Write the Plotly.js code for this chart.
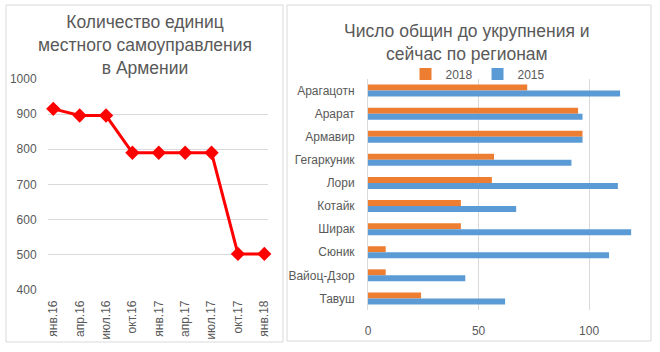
<!DOCTYPE html>
<html><head><meta charset="utf-8">
<script src="https://cdn.plot.ly/plotly-3.0.1.min.js"></script>
<style>html,body{margin:0;padding:0;background:#fff;}#chart{width:660px;height:352px;}</style>
</head><body><div id="chart"></div>
<script>
// Left chart data
const months = ['янв.16','апр.16','июл.16','окт.16','янв.17','апр.17','июл.17','окт.17','янв.18'];
const unitCounts = [915, 896, 896, 790, 790, 790, 790, 502, 502];

// Right chart data
const regions = ['Арагацотн','Арарат','Армавир','Гегаркуник','Лори','Котайк','Ширак','Сюник','Вайоц-Дзор','Тавуш'];
const values2018 = [72, 95, 97, 57, 56, 42, 42, 8, 8, 24];
const values2015 = [114, 97, 97, 92, 113, 67, 119, 109, 44, 62];

const FONT = 'Liberation Sans, Arial, sans-serif';
const GREY = '#595959';
const W = 660, H = 352;
const px = x => x / W;
const py = y => 1 - y / H;

const traces = [
  {
    type: 'scatter', mode: 'lines+markers', x: months, y: unitCounts,
    xaxis: 'x', yaxis: 'y',
    line: {color: '#FF0000', width: 3},
    marker: {symbol: 'diamond', size: 11, color: '#FF0000'},
    showlegend: false, cliponaxis: false
  },
  {
    type: 'bar', orientation: 'h', name: '2018', y: regions, x: values2018,
    xaxis: 'x2', yaxis: 'y2', marker: {color: '#ED7D31'}
  },
  {
    type: 'bar', orientation: 'h', name: '2015', y: regions, x: values2015,
    xaxis: 'x2', yaxis: 'y2', marker: {color: '#5B9BD5'}
  }
];

const layout = {
  width: W, height: H,
  margin: {l: 0, r: 0, t: 0, b: 0},
  paper_bgcolor: '#fff', plot_bgcolor: 'rgba(0,0,0,0)',
  font: {family: FONT, color: GREY, size: 12},
  barmode: 'group', bargap: 0.48, bargroupgap: 0,
  xaxis: {
    domain: [px(48), px(268)], anchor: 'y', type: 'category',
    range: [-0.2, 8.14], tickangle: -90, showgrid: false, showline: false,
    tickfont: {size: 12, color: GREY}, ticks: 'outside', ticklen: 5, tickcolor: 'rgba(0,0,0,0)',
    fixedrange: true
  },
  yaxis: {
    domain: [py(289.7), py(79)], anchor: 'x',
    range: [400, 1000], dtick: 100, gridcolor: '#d9d9d9', gridwidth: 1,
    zeroline: false, showline: false, tickfont: {size: 12, color: GREY},
    ticks: 'outside', ticklen: 8, tickcolor: 'rgba(0,0,0,0)'
  },
  xaxis2: {
    domain: [px(368), px(640)], anchor: 'y2',
    range: [0, 123], tickvals: [0, 50, 100], gridcolor: '#d9d9d9', gridwidth: 1,
    zeroline: false, showline: false, tickfont: {size: 12, color: GREY},
    ticks: 'outside', ticklen: 10, tickcolor: 'rgba(0,0,0,0)'
  },
  yaxis2: {
    domain: [py(310), py(79)], anchor: 'x2', type: 'category',
    autorange: 'reversed', showgrid: false, showline: true, linecolor: '#d9d9d9', linewidth: 1,
    tickfont: {size: 12, color: GREY},
    ticks: 'outside', ticklen: 10, tickcolor: 'rgba(0,0,0,0)'
  },
  legend: {
    orientation: 'h', x: px(478), y: py(74), xanchor: 'center', yanchor: 'middle',
    font: {size: 12, color: GREY}, itemwidth: 30, tracegroupgap: 0,
    bgcolor: 'rgba(0,0,0,0)'
  },
  shapes: [
    {type: 'rect', xref: 'paper', yref: 'paper', x0: px(6), x1: px(283), y0: py(342), y1: py(5),
     line: {color: '#d9d9d9', width: 1}},
    {type: 'rect', xref: 'paper', yref: 'paper', x0: px(287), x1: px(651), y0: py(341), y1: py(5),
     line: {color: '#d9d9d9', width: 1}}
  ],
  annotations: [
    {text: 'Количество единиц<br>местного самоуправления<br>в Армении', xref: 'paper', yref: 'paper',
     x: px(145), y: py(45), xanchor: 'center', yanchor: 'middle', showarrow: false,
     font: {size: 17.5, color: GREY, family: FONT}},
    {text: 'Число общин до укрупнения и<br>сейчас по регионам', xref: 'paper', yref: 'paper',
     x: px(467), y: py(42), xanchor: 'center', yanchor: 'middle', showarrow: false,
     font: {size: 17.5, color: GREY, family: FONT}}
  ]
};

Plotly.newPlot('chart', traces, layout, {displayModeBar: false, staticPlot: true});
</script>
</body></html>
